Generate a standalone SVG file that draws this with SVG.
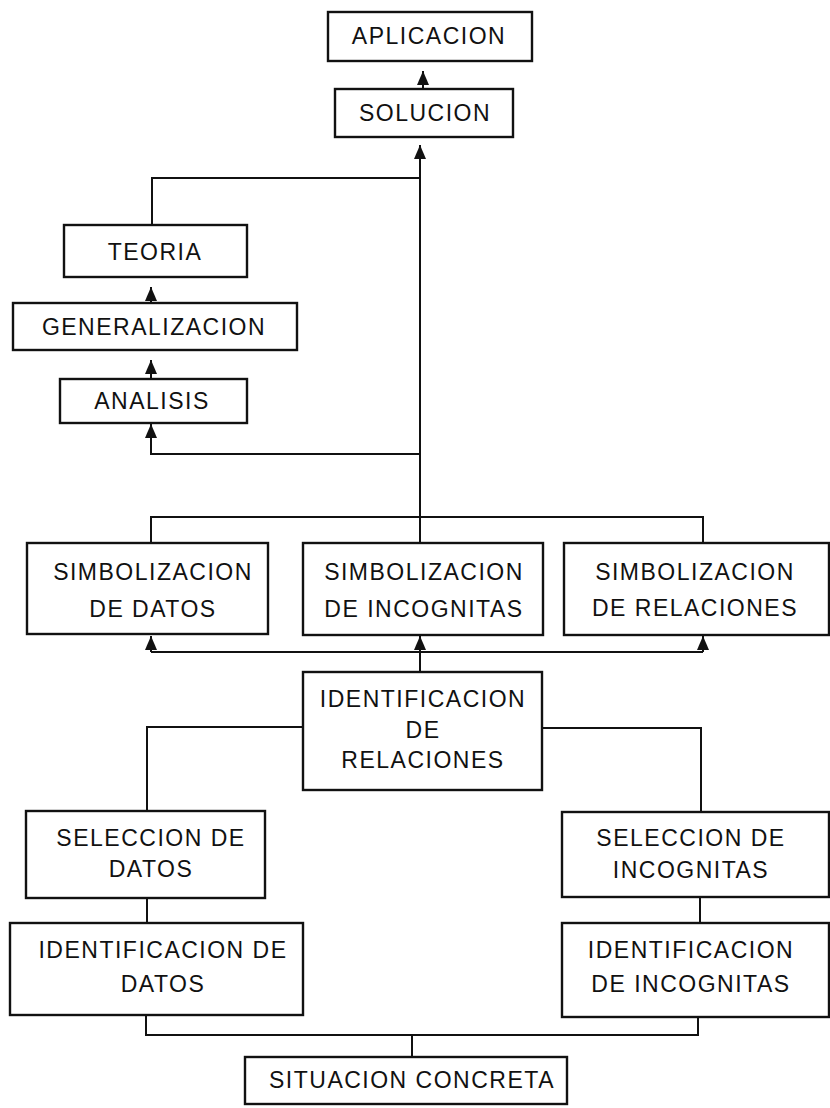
<svg xmlns="http://www.w3.org/2000/svg" width="830" height="1108" viewBox="0 0 830 1108">
<style>
.box{fill:#fff;stroke:#111;stroke-width:2.4}
.t{font-family:"Liberation Sans",Arial,sans-serif;font-size:23px;letter-spacing:1.5px;fill:#111;text-anchor:middle}
.c{fill:none;stroke:#111;stroke-width:2}
</style>
<defs>
<marker id="ah" viewBox="0 0 14 12" refX="14" refY="6" markerWidth="14" markerHeight="12" markerUnits="userSpaceOnUse" orient="auto">
<path d="M0,0 L14,6 L0,12 z" fill="#111"/>
</marker>
</defs>
<rect width="830" height="1108" fill="#fff"/>
<g id="connectors">
<path class="c" d="M423,89 V71" marker-end="url(#ah)"/>
<path class="c" d="M420,543 V145" marker-end="url(#ah)"/>
<path class="c" d="M420,178 H152 V225"/>
<path class="c" d="M151,303 V287" marker-end="url(#ah)"/>
<path class="c" d="M151,379 V360" marker-end="url(#ah)"/>
<path class="c" d="M420,454 H151 V424" marker-end="url(#ah)"/>
<path class="c" d="M151,543 V517 H703 V543"/>
<path class="c" d="M151,652 H703"/>
<path class="c" d="M151,652 V636" marker-end="url(#ah)"/>
<path class="c" d="M420,672 V636" marker-end="url(#ah)"/>
<path class="c" d="M703,652 V636" marker-end="url(#ah)"/>
<path class="c" d="M303,727 H147 V811"/>
<path class="c" d="M542,728 H701 V812"/>
<path class="c" d="M147,898 V923"/>
<path class="c" d="M700,897 V923"/>
<path class="c" d="M146,1015 V1035 H698 V1017"/>
<path class="c" d="M412,1035 V1057"/>
</g>
<g id="aplicacion"><rect class="box" x="328" y="12" width="204" height="49"/><text class="t" x="429" y="44">APLICACION</text></g>
<g id="solucion"><rect class="box" x="335" y="89" width="178" height="48"/><text class="t" x="425" y="121">SOLUCION</text></g>
<g id="teoria"><rect class="box" x="64" y="225" width="183" height="52"/><text class="t" x="155" y="260">TEORIA</text></g>
<g id="generalizacion"><rect class="box" x="13" y="303" width="284" height="47"/><text class="t" x="154" y="335">GENERALIZACION</text></g>
<g id="analisis"><rect class="box" x="60" y="379" width="187" height="44"/><text class="t" x="152" y="409">ANALISIS</text></g>
<g id="simb-datos"><rect class="box" x="27" y="543" width="241" height="91"/><text class="t" x="153" y="580">SIMBOLIZACION</text><text class="t" x="153" y="617">DE DATOS</text></g>
<g id="simb-incognitas"><rect class="box" x="303" y="543" width="240" height="92"/><text class="t" x="424" y="580">SIMBOLIZACION</text><text class="t" x="424" y="617">DE INCOGNITAS</text></g>
<g id="simb-relaciones"><rect class="box" x="564" y="543" width="265" height="92"/><text class="t" x="695" y="580">SIMBOLIZACION</text><text class="t" x="695" y="616">DE RELACIONES</text></g>
<g id="ident-relaciones"><rect class="box" x="303" y="672" width="239" height="118"/><text class="t" x="423" y="707">IDENTIFICACION</text><text class="t" x="423" y="738">DE</text><text class="t" x="423" y="768">RELACIONES</text></g>
<g id="sel-datos"><rect class="box" x="26" y="811" width="239" height="87"/><text class="t" x="151" y="846">SELECCION DE</text><text class="t" x="151" y="877">DATOS</text></g>
<g id="sel-incognitas"><rect class="box" x="562" y="812" width="267" height="85"/><text class="t" x="691" y="846">SELECCION DE</text><text class="t" x="691" y="878">INCOGNITAS</text></g>
<g id="ident-datos"><rect class="box" x="10" y="923" width="293" height="92"/><text class="t" x="163" y="958">IDENTIFICACION DE</text><text class="t" x="163" y="992">DATOS</text></g>
<g id="ident-incognitas"><rect class="box" x="562" y="923" width="267" height="94"/><text class="t" x="691" y="958">IDENTIFICACION</text><text class="t" x="691" y="992">DE INCOGNITAS</text></g>
<g id="situacion"><rect class="box" x="245" y="1057" width="322" height="47"/><text class="t" x="412" y="1088">SITUACION CONCRETA</text></g>
</svg>
